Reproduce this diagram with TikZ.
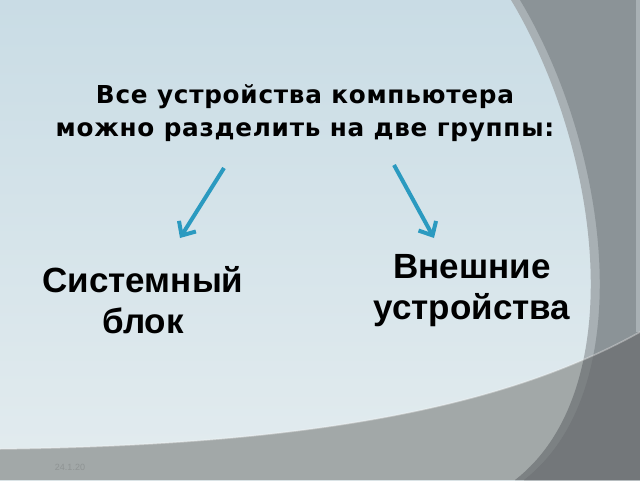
\documentclass[tikz,border=0pt]{standalone}
\usepackage{fontspec}
\setmainfont{Liberation Sans}
\newfontfamily\titlefont[LetterSpace=3]{DejaVu Sans}
\usetikzlibrary{arrows.meta}

\definecolor{bgtop}{HTML}{C9DCE5}
\definecolor{bgbot}{HTML}{E3ECEF}
\definecolor{rimgray}{HTML}{A8B0B4}
\definecolor{sidegray}{HTML}{8B9397}
\definecolor{bandgray}{HTML}{A2A8A8}
\definecolor{darkgray}{HTML}{73777A}
\definecolor{arrowblue}{HTML}{2B9AC0}

\tikzset{
  label/.style={font=\fontsize{35}{41}\selectfont\bfseries,align=center},
  pointer/.style={line width=4pt,arrowblue,-{Straight Barb[length=11pt,width=20pt]}}
}

\begin{document}
\begin{tikzpicture}[x=1pt,y=-1pt]
\useasboundingbox (0,0) rectangle (640,480);
%background
\shade[top color=bgtop,bottom color=bgbot] (0,0) rectangle (640,480);
\fill[rimgray] (511,0) .. controls (601,150) and (631,390) .. (515,480)
  -- (640,480) -- (640,0) -- cycle;
\fill[sidegray] (520,0) .. controls (610,150) and (640,390) .. (524,480)
  -- (640,480) -- (640,0) -- cycle;
\fill[rimgray] (636,0) rectangle (640,332);
\fill[bandgray] (0,449) .. controls (300,445) and (500,410) .. (640,332)
  -- (640,480) -- (0,480) -- cycle;
\begin{scope}
  \clip (511,0) .. controls (601,150) and (631,390) .. (515,480)
    -- (640,480) -- (640,0) -- cycle;
  \fill[darkgray!80!bandgray] (0,449) .. controls (300,445) and (500,410) .. (640,332)
    -- (640,480) -- (0,480) -- cycle;
  \clip (520,0) .. controls (610,150) and (640,390) .. (524,480)
    -- (640,480) -- (640,0) -- cycle;
  \fill[darkgray] (0,449) .. controls (300,445) and (500,410) .. (640,332)
    -- (640,480) -- (0,480) -- cycle;
\end{scope}
\draw[white,opacity=0.35,line width=1.5pt] (0,449) .. controls (300,445) and (500,410) .. (640,332);
\node[font=\fontsize{9}{9}\selectfont,text=bandgray!88!black] (date) at (70,467) {24.1.20};

%title
\node[font=\titlefont\fontsize{24.7}{33}\selectfont\bfseries,align=center] (title) at (305,113)
  {Все устройства компьютера\\можно разделить на две группы:};

%groups
\node[label] (system) at (143,300) {Системный\\блок};
\node[label] (external) at (472,291) {Внешние\\устройства};

%arrows
\coordinate (LeftStart) at (224,168);
\coordinate (LeftEnd) at (180,238);
\coordinate (RightStart) at (394,165);
\coordinate (RightEnd) at (434,238);
\draw[pointer] (LeftStart) -- (LeftEnd);
\draw[pointer] (RightStart) -- (RightEnd);
\end{tikzpicture}
\end{document}
